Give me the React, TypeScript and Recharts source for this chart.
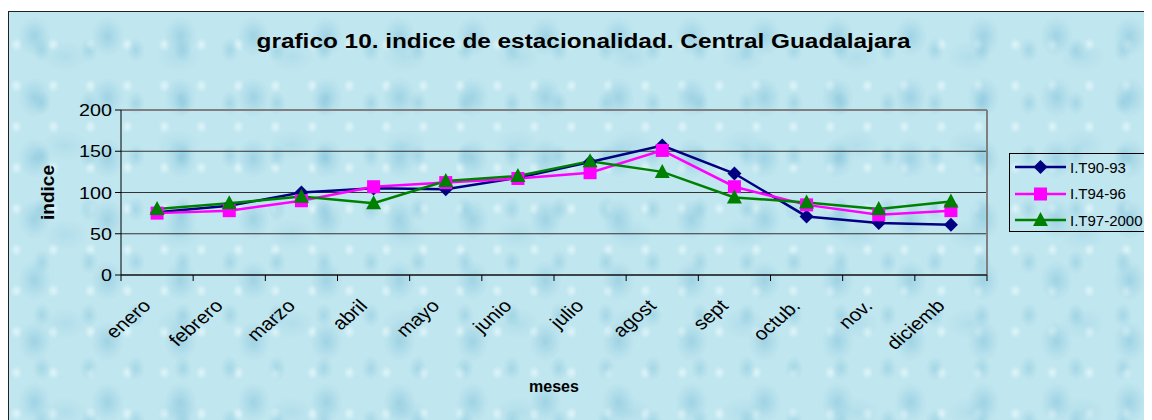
import React from 'react';
import {
  LineChart, Line, XAxis, YAxis, CartesianGrid, Legend, ReferenceLine,
} from 'recharts';

const meses = ['enero', 'febrero', 'marzo', 'abril', 'mayo', 'junio', 'julio', 'agost', 'sept', 'octub.', 'nov.', 'diciemb'];
const it9093 = [76, 84, 100, 105, 104, 118, 137, 157, 123, 71, 63, 61];
const it9496 = [75, 78, 90, 107, 112, 117, 124, 151, 107, 85, 73, 78];
const it9700 = [80, 87, 95, 87, 114, 120, 138, 125, 94, 88, 80, 89];
const yTicks = [0, 50, 100, 150, 200];

const series = [
  { key: 'a', name: 'I.T90-93', color: '#000080', shape: 'diamond' },
  { key: 'b', name: 'I.T94-96', color: '#FF00FF', shape: 'square' },
  { key: 'c', name: 'I.T97-2000', color: '#008000', shape: 'triangle' },
];

const data = meses.map((m, i) => ({ mes: m, a: it9093[i], b: it9496[i], c: it9700[i] }));

const CHART_W = 1142;
const CHART_H = 408;
const PLOT_L = 112;
const PLOT_R = 978;
const PLOT_T = 98;
const PLOT_B = 263;
const STEP = (PLOT_R - PLOT_L) / meses.length;
const FONT = 'Arial, "Liberation Sans", sans-serif';
// the original picture is stretched sideways a little
const SX = 1.16;

function Marker({ shape, cx, cy, color }: { shape: string; cx: number; cy: number; color: string }) {
  if (shape === 'diamond') {
    const r = 7;
    return <path d={`M${cx},${cy - r}L${cx + r},${cy}L${cx},${cy + r}L${cx - r},${cy}Z`} fill={color} />;
  }
  if (shape === 'square') {
    return <rect x={cx - 6.5} y={cy - 6.5} width={13} height={13} fill={color} />;
  }
  return <path d={`M${cx},${cy - 8}L${cx + 7.5},${cy + 6}L${cx - 7.5},${cy + 6}Z`} fill={color} />;
}

const makeDot = (shape: string, color: string) => (props: any) => {
  const { cx, cy, index } = props;
  if (cx == null || cy == null) return <g key={index} />;
  return <Marker key={index} shape={shape} cx={cx} cy={cy} color={color} />;
};

function MesTick(props: any) {
  const { x, payload, index } = props;
  const left = x - STEP / 2;
  const ty = PLOT_B;
  const bx = x - 5;
  const by = ty + 32;
  return (
    <g>
      <line x1={left} y1={ty} x2={left} y2={ty + 6} stroke="#000" />
      {index === meses.length - 1 && (
        <line x1={left + STEP} y1={ty} x2={left + STEP} y2={ty + 6} stroke="#000" />
      )}
      <text
        x={0}
        y={0}
        transform={`translate(${bx} ${by}) scale(${SX} 1) rotate(-45)`}
        textAnchor="end"
        fontFamily={FONT}
        fontSize={18}
        fill="#000"
      >
        {payload.value}
      </text>
    </g>
  );
}

function ValTick(props: any) {
  const { x, y, payload } = props;
  return (
    <text
      x={0}
      y={0}
      transform={`translate(${x} ${y + 6}) scale(${SX} 1)`}
      textAnchor="end"
      fontFamily={FONT}
      fontSize={17}
      fill="#000"
    >
      {payload.value}
    </text>
  );
}

function LegendBox() {
  return (
    <div
      style={{
        border: '1px solid #000',
        width: 139,
        height: 79,
        boxSizing: 'border-box',
        padding: '0 0 0 5px',
        fontFamily: FONT,
        fontSize: 15,
        color: '#000',
        whiteSpace: 'nowrap',
      }}
    >
      {series.map((s) => (
        <div key={s.key} style={{ display: 'flex', alignItems: 'center', height: 26.5 }}>
          <svg width={51} height={20} style={{ marginRight: 4, flex: 'none' }}>
            <line x1={0} y1={10} x2={51} y2={10} stroke={s.color} strokeWidth={2.5} />
            <Marker shape={s.shape} cx={25.5} cy={10} color={s.color} />
          </svg>
          <span>{s.name}</span>
        </div>
      ))}
    </div>
  );
}

const bg = {
  backgroundColor: '#c0e6ef',
  backgroundImage: [
    'radial-gradient(ellipse 16px 20px at 35% 40%, rgba(120,188,214,0.45) 0%, rgba(140,200,222,0.2) 65%, rgba(0,0,0,0) 100%)',
    'radial-gradient(ellipse 9px 12px at 70% 72%, rgba(125,192,216,0.4) 0%, rgba(0,0,0,0) 100%)',
    'radial-gradient(ellipse 22px 15px at 50% 50%, rgba(150,206,226,0.35) 0%, rgba(0,0,0,0) 100%)',
    'radial-gradient(ellipse 6px 7px at 20% 80%, rgba(235,250,252,0.7) 0%, rgba(0,0,0,0) 100%)',
  ].join(','),
  backgroundSize: '73px 61px, 47px 53px, 113px 89px, 37px 41px',
};

export default function App() {
  return (
    <div
      style={{
        position: 'relative',
        marginTop: 3,
        width: 1150,
        height: 420,
        borderTop: '1px solid #222',
        borderLeft: '1px solid #222',
        borderRight: '1px solid #222',
        ...bg,
      }}
    >
      <div
        style={{
          position: 'absolute',
          left: 0,
          top: 17,
          width: 1152,
          textAlign: 'center',
          fontFamily: FONT,
          fontWeight: 'bold',
          fontSize: 21,
          color: '#000',
          transform: `scaleX(${SX})`,
          transformOrigin: '585px 0',
          whiteSpace: 'nowrap',
        }}
      >
        grafico 10. indice de estacionalidad. Central Guadalajara
      </div>
      <LineChart
        width={CHART_W}
        height={CHART_H}
        data={data}
        margin={{ top: PLOT_T, right: CHART_W - PLOT_R, left: 0, bottom: 0 }}
      >
        <CartesianGrid horizontal vertical={false} stroke="#333" strokeWidth={1} />
        <CartesianGrid
          horizontal={false}
          vertical
          stroke="#808080"
          strokeWidth={2}
          verticalCoordinatesGenerator={({ offset }: any) => [offset.left + offset.width]}
        />
        <ReferenceLine y={200} stroke="#808080" strokeWidth={2} />
        <XAxis
          dataKey="mes"
          scale="band"
          height={CHART_H - PLOT_B}
          axisLine={{ stroke: '#000' }}
          tickLine={false}
          tick={<MesTick />}
          interval={0}
          label={{
            value: 'meses',
            position: 'insideBottom',
            offset: 28,
            style: { fontFamily: FONT, fontWeight: 'bold', fontSize: 16, fill: '#000' },
          }}
        />
        <YAxis
          width={PLOT_L}
          domain={[0, 200]}
          ticks={yTicks}
          tickSize={6}
          tickMargin={3}
          axisLine={{ stroke: '#000' }}
          tickLine={{ stroke: '#000' }}
          tick={<ValTick />}
          label={{
            value: 'indice',
            angle: -90,
            position: 'insideLeft',
            offset: 38,
            style: { fontFamily: FONT, fontWeight: 'bold', fontSize: 19, fill: '#000', textAnchor: 'middle' },
          }}
        />
        <Legend
          layout="vertical"
          align="center"
          verticalAlign="middle"
          content={() => <LegendBox />}
          wrapperStyle={{ position: 'absolute', left: 1000, top: 141, width: 139 }}
        />
        {series.map((s) => (
          <Line
            key={s.key}
            dataKey={s.key}
            name={s.name}
            stroke={s.color}
            strokeWidth={2.5}
            dot={makeDot(s.shape, s.color)}
            activeDot={false}
            isAnimationActive={false}
          />
        ))}
      </LineChart>
    </div>
  );
}
